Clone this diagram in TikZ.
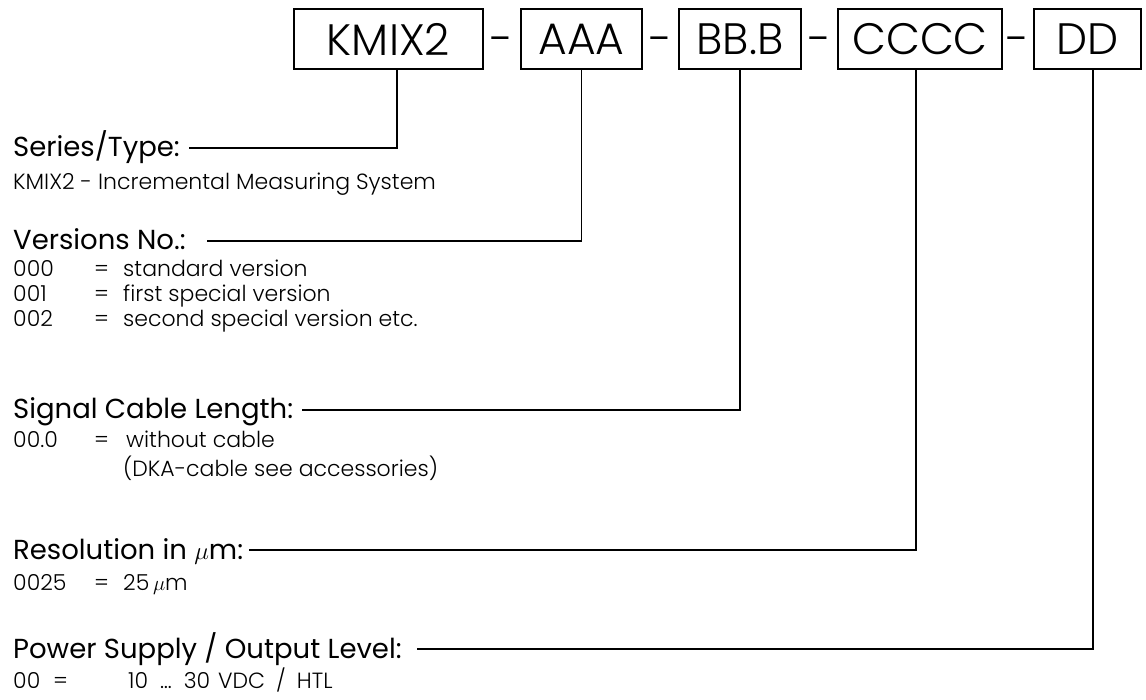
\documentclass[tikz,border=0pt]{standalone}
\usepackage{fontspec}
\setmainfont{Poppins}
\newfontfamily\lightf{Poppins Light}
\newcommand\boxf{\lightf\fontsize{44}{50}\selectfont}
\newcommand\headf{\fontsize{27.5}{31}\selectfont}
\newcommand\bodyf{\lightf\fontsize{22}{26}\selectfont}
\begin{document}
\begin{tikzpicture}[x=1pt,y=-1pt,
  codebox/.style={draw,line width=1.3pt,minimum height=60pt,inner sep=0pt,font=\boxf},
  dashsep/.style={anchor=base,inner sep=0pt,font=\boxf},
  hd/.style={anchor=base west,inner sep=0pt,font=\headf},
  bd/.style={anchor=base west,inner sep=0pt,font=\bodyf},
  conn/.style={line width=1.3pt}]
\useasboundingbox (0,0) rectangle (1146,700);
% code boxes
\node[codebox,minimum width=189pt] (kmix) at (388.5,39) {KMIX2};
\node[codebox,minimum width=121pt] (aaa) at (581.5,39) {AAA};
\node[codebox,minimum width=122pt] (bbb) at (740,39) {BB.B};
\node[codebox,minimum width=164pt] (cccc) at (920,39) {CCCC};
\node[codebox,minimum width=107pt] (dd) at (1087.5,39) {DD};
\node[dashsep] (s1) at (502,55) {-};
\node[dashsep] (s2) at (660.5,55) {-};
\node[dashsep] (s3) at (819.5,55) {-};
\node[dashsep] (s4) at (1018,55) {-};
% headings
\node[hd] (h1) at (13,157) {Series/Type:};
\node[hd] (h2) at (13,250) {Versions No.:};
\node[hd] (h3) at (13,419) {Signal Cable Length:};
\node[hd] (h4) at (13,559) {Resolution in $\mu$m:};
\node[hd] (h5) at (13,658) {Power Supply / Output Level:};
% line ends
\coordinate (e1) at (189,148);
\coordinate (e2) at (207,241);
\coordinate (e3) at (302,410);
\coordinate (e4) at (249,550);
\coordinate (e5) at (417,649);
% connectors
\draw[conn] ([xshift=8.5pt]kmix.south) |- (e1);
\draw[conn] (aaa.south) |- (e2);
\draw[conn] (bbb.south) |- (e3);
\draw[conn] ([xshift=-4pt]cccc.south) |- (e4);
\draw[conn] ([xshift=5.5pt]dd.south) |- (e5);
% body texts
\node[bd] (t1) at (13,190) {KMIX2 - Incremental Measuring System};
\node[bd] (t2a) at (13,277) {000};
\node[bd] (t2e) at (94,277) {=};
\node[bd] (t2b) at (123,277) {standard version};
\node[bd] (t3a) at (13,302) {001};
\node[bd] (t3e) at (94,302) {=};
\node[bd] (t3b) at (123,302) {first special version};
\node[bd] (t4a) at (13,327) {002};
\node[bd] (t4e) at (94,327) {=};
\node[bd] (t4b) at (123,327) {second special version etc.};
\node[bd] (t5a) at (13,447) {00.0};
\node[bd] (t5b) at (94,447) {=};
\node[bd] (t5c) at (126,447) {without cable};
\node[bd] (t6) at (123,476) {(DKA-cable see accessories)};
\node[bd] (t7a) at (13,590) {0025};
\node[bd] (t7b) at (94,590) {=};
\node[bd] (t7c) at (123,590) {25\,$\mu$m};
\node[bd] (t8a) at (13,688) {00};
\node[bd] (t8e) at (53,688) {=};
\node[bd] (t8b) at (128,688) {10\hspace{12pt}…\hspace{12pt}30\hspace{8pt}VDC\hspace{11pt}/\hspace{11pt}HTL};
\end{tikzpicture}
\end{document}
